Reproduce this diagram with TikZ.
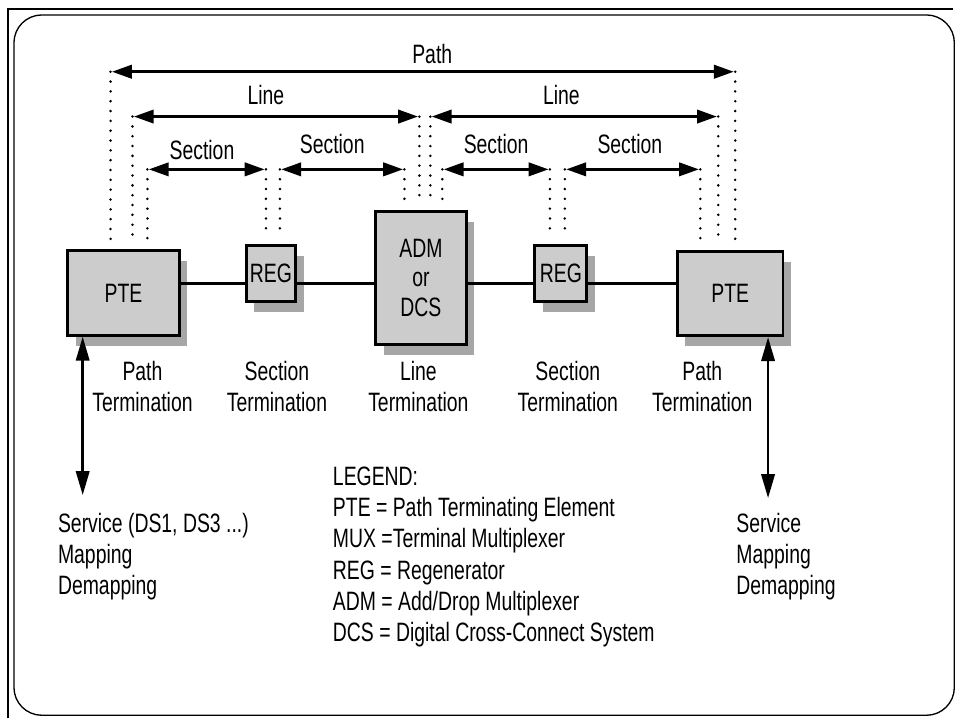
\documentclass[tikz,border=0pt]{standalone}
\usepackage{fontspec}
\setmainfont{Liberation Sans}[FakeStretch=0.73]
\usetikzlibrary{arrows.meta,shadows}
\newcommand\PX{0.75pt}

\begin{document}
\begin{tikzpicture}[x=\PX,y=-\PX,>={Triangle[length=15pt,width=10pt]},
                    font=\fontsize{20}{23.5}\selectfont]

  \tikzstyle{box}=[draw,line width=2.2pt,fill=gray!40,inner sep=0pt,align=center,
                   font=\fontsize{20}{22}\selectfont,
                   drop shadow={shadow xshift=6pt,shadow yshift=-8pt,fill=gray!70,opacity=1}]
  \tikzstyle{link}=[line width=2.2pt]
  \tikzstyle{dim}=[<->,line width=2.2pt,shorten >=1pt,shorten <=1pt]
  \tikzstyle{dots}=[line width=2.1pt,line cap=round,dash pattern=on 0pt off 7.4pt,shorten >=7.5pt]
  \tikzstyle{svcarrow}=[<->,>={Triangle[length=18pt,width=10pt]},line width=2pt]
  \tikzstyle{term}=[align=center,inner sep=0pt]
  \tikzstyle{notes}=[align=left,inner sep=0pt,anchor=west]
  \tikzstyle{tag}=[inner sep=0pt]

  \fill[white] (0,0) rectangle (955,720);
  \draw[line width=2.2pt] (8,721) -- (8,9) -- (957,9);
  \draw[line width=1pt,rounded corners=21pt] (14,15) rectangle (958,718);

  % network elements
  \node[box,minimum width=84pt,minimum height=63.75pt]   (pteL) at (124,294)   {PTE};
  \node[box,minimum width=37.5pt,minimum height=42.75pt] (regL) at (272,274.5) {REG};
  \node[box,minimum width=68.25pt,minimum height=100.5pt] (adm) at (422.5,279) {ADM\\or\\DCS};
  \node[box,minimum width=39pt,minimum height=42.75pt]   (regR) at (563,274.5) {REG};
  \node[box,minimum width=79.5pt,minimum height=63.75pt] (pteR) at (733,294.5) {PTE};

  \coordinate (wire) at (0,285);
  \draw[link] (pteL.east |- wire) -- (regL.west |- wire);
  \draw[link] (regL.east |- wire) -- (adm.west |- wire);
  \draw[link] (adm.east |- wire) -- (regR.west |- wire);
  \draw[link] (regR.east |- wire) -- (pteR.west |- wire);

  % termination points
  \foreach \c/\x/\y/\n in {d1/111/72/pteL, d2/133/117/pteL, d3/148/170/pteL,
                           d4/267/170/regL, d5/281/170/regL,
                           d6/406/170/adm, d7/421/117/adm, d8/432/117/adm, d9/444/170/adm,
                           d10/552/170/regR, d11/567/170/regR,
                           d12/703/170/pteR, d13/721/117/pteR, d14/738/72/pteR}
  {
    \coordinate (\c) at (\x,\y);
    \draw[dots] (\c) -- (\c |- \n.north);
  }

  \draw[dim] (d1) -- node[tag,above=5pt,pos=.515] {Path} (d14);
  \draw[dim] (d2) -- node[tag,above=7.5pt,pos=.465] {Line} (d7);
  \draw[dim] (d8) -- node[tag,above=7.5pt,pos=.455] {Line} (d13);
  \draw[dim] (d3) -- node[tag,above=6.5pt,pos=.46] {Section} (d4);
  \draw[dim] (d5) -- node[tag,above=11pt,pos=.42] {Section} (d6);
  \draw[dim] (d9) -- node[tag,above=11pt] {Section} (d10);
  \draw[dim] (d11) -- node[tag,above=11pt,pos=.48] {Section} (d12);

  \node[term] (ptL) at (143,388) {Path\\Termination};
  \node[term] (stL) at (278,388) {Section\\Termination};
  \node[term] (lt)  at (420,388) {Line\\Termination};
  \node[term] (stR) at (570,388) {Section\\Termination};
  \node[term] (ptR) at (705,388) {Path\\Termination};

  % service access
  \node[notes] (svcL) at (58,559)  {Service (DS1, DS3 ...)\\Mapping\\Demapping};
  \node[notes] (svcR) at (739,559) {Service\\Mapping\\Demapping};
  \coordinate (svcLend) at (83,497);
  \coordinate (svcRend) at (771,500);
  \draw[svcarrow] (pteL.south -| svcLend) -- (svcLend);
  \draw[svcarrow] (pteR.south -| svcRend) -- (svcRend);

  \node[notes] (legend) at (334,559)
    {LEGEND:\\PTE = Path Terminating Element\\MUX =Terminal Multiplexer\\REG = Regenerator\\
     ADM = Add/Drop Multiplexer\\DCS = Digital Cross-Connect System};
\end{tikzpicture}
\end{document}
